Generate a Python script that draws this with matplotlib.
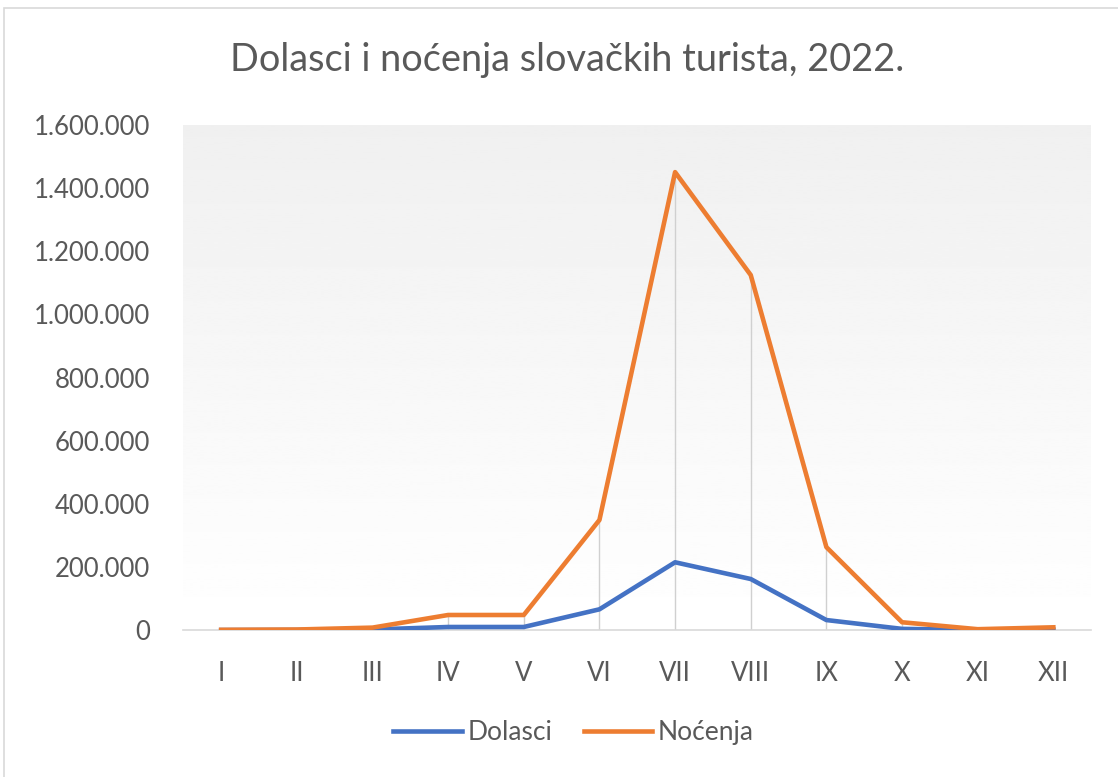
import numpy as np
import matplotlib.pyplot as plt
from matplotlib.patches import Rectangle
from matplotlib.ticker import FuncFormatter

plt.rcParams['font.family'] = ['Lato', 'DejaVu Sans']

mjeseci = ['I', 'II', 'III', 'IV', 'V', 'VI', 'VII', 'VIII', 'IX', 'X', 'XI', 'XII']
dolasci = [300, 600, 2000, 10000, 10000, 66000, 215000, 162000, 32000, 4000, 600, 1500]
nocenja = [1000, 2000, 8000, 48000, 48000, 349000, 1451000, 1125000, 263000, 25000, 3000, 9000]

plava = '#4472C4'
narancasta = '#ED7D31'
siva = '#595959'

fig = plt.figure(figsize=(11.18, 7.77), dpi=100)
ax = fig.add_axes([0.164, 0.189, 0.812, 0.650])

x = np.arange(len(mjeseci))

# gradijent u pozadini
grad = np.linspace(1.0, 0.94, 256).reshape(-1, 1)
ax.imshow(grad, cmap='gray', vmin=0, vmax=1, aspect='auto',
          extent=[0, 1, 1, 0], transform=ax.transAxes, zorder=0)

# okomite linije do osi
vrh = np.maximum(dolasci, nocenja)
ax.vlines(x, 0, vrh, color='#d0d0d0', lw=1, zorder=1)

ax.plot(x, dolasci, color=plava, lw=3.3, label='Dolasci', zorder=3, solid_joinstyle='round')
ax.plot(x, nocenja, color=narancasta, lw=3.3, label='Noćenja', zorder=3, solid_joinstyle='round')

ax.set_xlim(-0.5, 11.5)
ax.set_ylim(0, 1600000)
ax.set_xticks(x)
ax.set_xticklabels(mjeseci)
ax.set_yticks(np.arange(0, 1600001, 200000))
ax.yaxis.set_major_formatter(FuncFormatter(lambda v, p: f'{int(v):,}'.replace(',', '.')))
ax.tick_params(axis='both', length=0, labelsize=18.5, colors=siva)
ax.tick_params(axis='x', pad=22)
ax.tick_params(axis='y', pad=24)
for s in ['top', 'right', 'left']:
    ax.spines[s].set_visible(False)
ax.spines['bottom'].set_color('#d9d9d9')
ax.spines['bottom'].set_linewidth(1.2)

fig.text(0.507, 0.923, 'Dolasci i noćenja slovačkih turista, 2022.', ha='center', va='center',
         fontsize=27.3, color=siva)

fig.legend(loc='center', bbox_to_anchor=(0.513, 0.057), ncol=2, frameon=False,
           fontsize=19, handlelength=2.6, columnspacing=1.2, handletextpad=0.2,
           labelcolor=siva)

fig.patches.append(Rectangle((0.004, -0.01), 1.0, 1.0, transform=fig.transFigure,
                             fill=False, edgecolor='#d9d9d9', lw=1.2))

fig.savefig('out.png', dpi=100)
